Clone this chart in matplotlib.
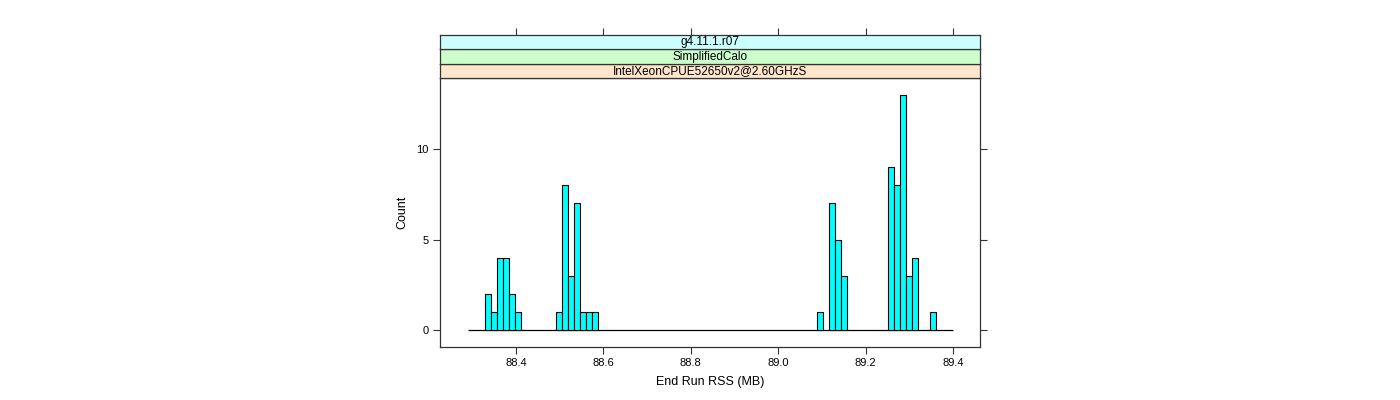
import numpy as np
import matplotlib.pyplot as plt

plt.rcParams['font.family'] = ['Liberation Sans', 'DejaVu Sans']

# histogram bins (End Run RSS, MB) and counts per bin
rss_lo = 88.289
rss_hi = 89.401
n_bins = 82
# non-empty bins: bin index -> count
bin_index = [3, 4, 5, 6, 7, 8,
             15, 16, 17, 18, 19, 20, 21,
             59, 61, 62, 63,
             71, 72, 73, 74, 75, 78]
bin_count = [2, 1, 4, 4, 2, 1,
             1, 8, 3, 7, 1, 1, 1,
             1, 7, 5, 3,
             9, 8, 13, 3, 4, 1]

strip_labels = ['IntelXeonCPUE52650v2@2.60GHzS', 'SimplifiedCalo', 'g4.11.1.r07']
strip_colors = ['#ffe5cc', '#ccffcc', '#ccffff']

x_ticks = [88.4, 88.6, 88.8, 89.0, 89.2, 89.4]
y_ticks = [0, 5, 10]

edges = np.linspace(rss_lo, rss_hi, n_bins + 1)
counts = np.zeros(n_bins)
counts[bin_index] = bin_count
nz = counts > 0

W, H = 1400, 400
fig = plt.figure(figsize=(14, 4), dpi=100)

frame_col = '#333333'
px = lambda l, t, w, h: [l / W, 1 - (t + h) / H, w / W, h / H]

ax = fig.add_axes(px(440, 78, 540, 269))
# baseline over the whole bin range (zero-height bars in lattice)
ax.hlines(0, edges[0], edges[-1], color='black', linewidth=0.9, zorder=1)
ax.bar(edges[:-1][nz], counts[nz], width=np.diff(edges)[nz], align='edge',
       color='#00ffff', edgecolor='black', linewidth=0.8, zorder=2)
ax.set_xlim(88.226, 89.462)
ax.set_ylim(-0.91, 13.91)
ax.set_xticks(x_ticks)
ax.set_xticklabels([f'{v:.1f}' for v in x_ticks])
ax.set_yticks(y_ticks)
ax.tick_params(axis='both', direction='out', length=5, width=0.8,
               color=frame_col, labelsize=8, pad=3)
ax.tick_params(axis='y', right=True, labelright=False)
for s in ax.spines.values():
    s.set_color(frame_col)
    s.set_linewidth(0.9)
ax.set_xlabel('End Run RSS (MB)', fontsize=9, labelpad=6)
ax.set_ylabel('Count', fontsize=9, labelpad=6)

# strips on top of the panel
strip_h = 14.33
for i, (lab, col) in enumerate(zip(strip_labels, strip_colors)):
    top = 78 - (i + 1) * strip_h
    sax = fig.add_axes(px(440, top, 540, strip_h))
    sax.set_facecolor(col)
    sax.set_xlim(ax.get_xlim())
    sax.set_yticks([])
    sax.text(0.5, 0.48, lab, transform=sax.transAxes, ha='center',
             va='center', fontsize=8.5)
    for s in sax.spines.values():
        s.set_color(frame_col)
        s.set_linewidth(0.9)
    if i == len(strip_labels) - 1:
        sax.set_xticks(x_ticks)
        sax.tick_params(axis='x', bottom=False, labelbottom=False, top=True,
                        labeltop=False, direction='out', length=5, width=0.8,
                        color=frame_col)
    else:
        sax.set_xticks([])

fig.savefig('out.png', dpi=100)
